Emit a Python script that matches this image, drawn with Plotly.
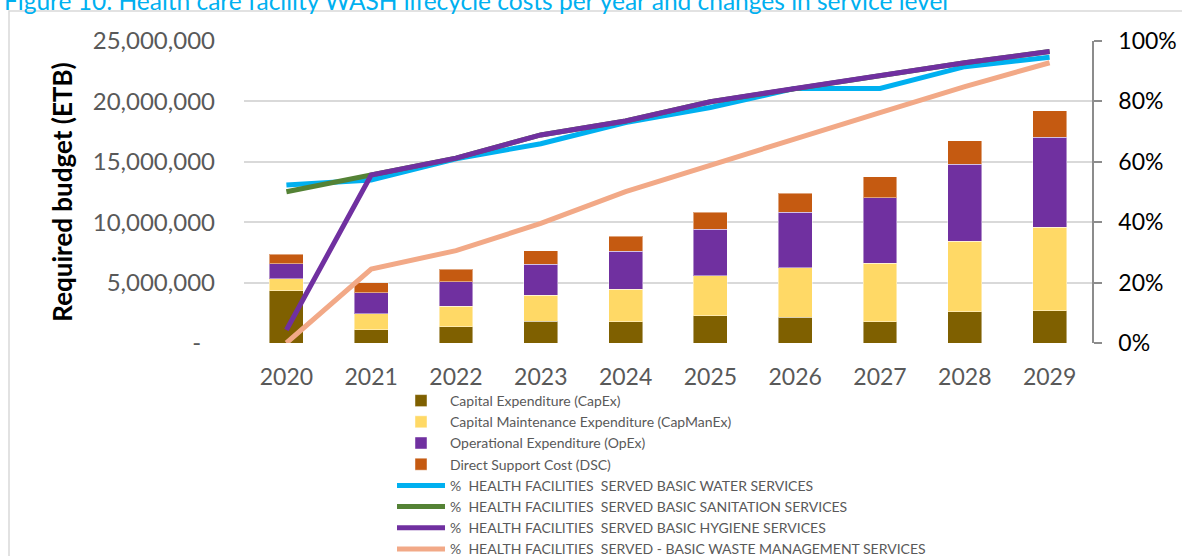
import plotly.graph_objects as go

# Years and lifecycle cost components (ETB)
years = ["2020", "2021", "2022", "2023", "2024", "2025", "2026", "2027", "2028", "2029"]
capex = [4330000, 1100000, 1350000, 1790000, 1740000, 2240000, 2150000, 1760000, 2590000, 2650000]
capmanex = [970000, 1330000, 1690000, 2150000, 2730000, 3330000, 4060000, 4860000, 5830000, 6930000]
opex = [1270000, 1710000, 2040000, 2570000, 3120000, 3840000, 4610000, 5410000, 6370000, 7450000]
dsc = [770000, 860000, 1020000, 1130000, 1240000, 1410000, 1570000, 1740000, 1960000, 2200000]

# Service levels (% of health facilities served)
water = [52.3, 54.0, 61.0, 66.0, 73.0, 78.0, 84.3, 84.3, 91.5, 94.6]
sanitation = [50.1, 55.6, 61.2, 68.9, 73.5, 79.9, 84.3, 88.7, 92.8, 96.5]
hygiene = [4.3, 55.6, 61.2, 68.9, 73.5, 79.9, 84.3, 88.7, 92.8, 96.5]
waste = [0.0, 24.5, 30.6, 39.6, 50.1, 59.0, 67.6, 76.3, 84.9, 92.8]

budget_ticks = [0, 5000000, 10000000, 15000000, 20000000, 25000000]
budget_labels = ["-\u2007", "5,000,000", "10,000,000", "15,000,000", "20,000,000", "25,000,000"]
pct_ticks = [0, 20, 40, 60, 80, 100]
pct_labels = ["0%", "20%", "40%", "60%", "80%", "100%"]

title_text = "Figure 10: Health care facility WASH lifecycle costs per year and changes in service level"

FONT = "Lato"

fig = go.Figure()

bar_specs = [
    ("Capital Expenditure (CapEx)", capex, "#7f6000"),
    ("Capital Maintenance Expenditure (CapManEx)", capmanex, "#ffd966"),
    ("Operational Expenditure (OpEx)", opex, "#7030a0"),
    ("Direct Support Cost (DSC)", dsc, "#c55a11"),
]
for i, (name, vals, color) in enumerate(bar_specs):
    fig.add_trace(go.Bar(
        x=years, y=vals, name=name, legendgroup=f"g{i}",
        marker=dict(color=color, line=dict(color="rgba(255,255,255,0.45)", width=1)),
        yaxis="y",
    ))

line_specs = [
    ("%  HEALTH FACILITIES  SERVED BASIC WATER SERVICES", water, "#00b0f0"),
    ("%  HEALTH FACILITIES  SERVED BASIC SANITATION SERVICES", sanitation, "#548235"),
    ("%  HEALTH FACILITIES  SERVED BASIC HYGIENE SERVICES", hygiene, "#7030a0"),
    ("%  HEALTH FACILITIES  SERVED - BASIC WASTE MANAGEMENT SERVICES", waste, "#f2a987"),
]
for j, (name, vals, color) in enumerate(line_specs):
    fig.add_trace(go.Scatter(
        x=years, y=vals, name=name, legendgroup=f"g{4 + j}",
        mode="lines", line=dict(color=color, width=5),
        yaxis="y2",
    ))

PL, PR, PT, PB = 244, 90, 41, 213
W, H = 1182, 556
pw, ph = W - PL - PR, H - PT - PB


def px_x(x):
    return (x - PL) / pw


def px_y(y):
    return (H - PB - y) / ph


fig.update_layout(
    width=W, height=H,
    margin=dict(l=PL, r=PR, t=PT, b=PB, pad=0, autoexpand=False),
    paper_bgcolor="white", plot_bgcolor="white",
    barmode="stack", bargap=0.6,
    font=dict(family=FONT, color="#595959"),
    showlegend=True,
    legend=dict(
        x=px_x(392), y=px_y(385), xanchor="left", yanchor="top",
        orientation="v", traceorder="grouped", tracegroupgap=0,
        itemwidth=48, bgcolor="rgba(0,0,0,0)",
        font=dict(family=FONT, size=14, color="#595959"),
    ),
    xaxis=dict(
        type="category", showgrid=False, showline=False, ticks="",
        tickfont=dict(family=FONT, size=23, color="#595959"),
        ticklabelstandoff=18,
    ),
    yaxis=dict(
        range=[0, 25000000], tickmode="array", tickvals=budget_ticks, ticktext=budget_labels,
        showgrid=True, gridcolor="#d9d9d9", gridwidth=1.5,
        zeroline=False, showline=False, ticks="",
        tickfont=dict(family=FONT, size=24, color="#595959"),
        ticklabelstandoff=28,
        title=dict(text="<b>Required budget (ETB)</b>",
                   font=dict(family=FONT, size=26, color="#000000"), standoff=12),
    ),
    yaxis2=dict(
        range=[0, 100], tickmode="array", tickvals=pct_ticks, ticktext=pct_labels,
        overlaying="y", side="right", showgrid=False, zeroline=False,
        showline=True, linecolor="#8c8c8c", linewidth=1.5,
        ticks="outside", ticklen=8, tickcolor="#8c8c8c", tickwidth=1.5,
        tickfont=dict(family=FONT, size=23, color="#000000"),
        ticklabelstandoff=12,
    ),
    shapes=[dict(
        type="rect", xref="paper", yref="paper",
        x0=px_x(9), x1=1.5, y0=-1.0, y1=px_y(11),
        line=dict(color="#d9d9d9", width=1.5), fillcolor="rgba(0,0,0,0)", layer="below",
    )],
    annotations=[dict(
        text=title_text, xref="paper", yref="paper",
        x=px_x(2), y=px_y(17), xanchor="left", yanchor="bottom",
        showarrow=False, font=dict(family=FONT, size=24.5, color="#00b0f0"),
    )],
)

fig.write_html("out.html")
